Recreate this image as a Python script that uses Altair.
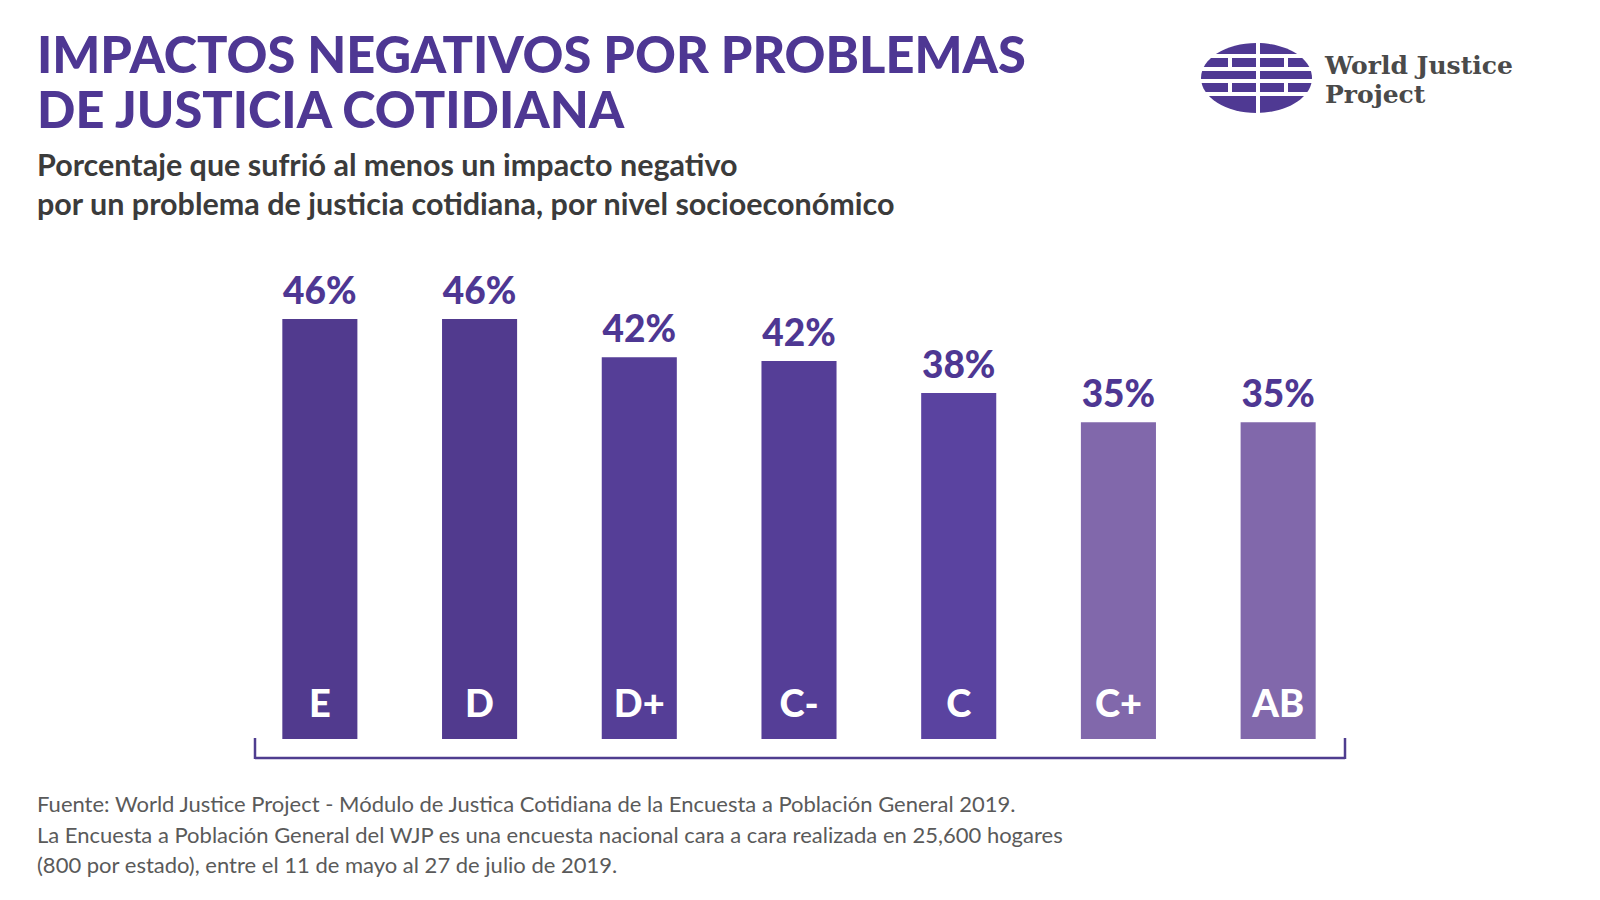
import altair as alt
import pandas as pd

# ---- data ----
categories = ["E", "D", "D+", "C-", "C", "C+", "AB"]
values = [46.0, 46.0, 41.8, 41.4, 37.9, 34.7, 34.7]
value_labels = ["46%", "46%", "42%", "42%", "38%", "35%", "35%"]

title_lines = ["IMPACTOS NEGATIVOS POR PROBLEMAS", "DE JUSTICIA COTIDIANA"]
subtitle_lines = [
    "Porcentaje que sufrió al menos un impacto negativo",
    "por un problema de justicia cotidiana, por nivel socioeconómico",
]
footer_lines = [
    "Fuente: World Justice Project - Módulo de Justica Cotidiana de la Encuesta a Población General 2019.",
    "La Encuesta a Población General del WJP es una encuesta nacional cara a cara realizada en 25,600 hogares",
    "(800 por estado), entre el 11 de mayo al 27 de julio de 2019.",
]
logo_lines = ["World Justice", "Project"]

bar_colors = ["#513a8e", "#513a8e", "#553e97", "#553e97", "#5a43a0", "#8168ab", "#8168ab"]
PURPLE = "#4e3793"

df = pd.DataFrame({"cat": categories, "v": values, "lbl": value_labels})

W, H = 1118, 456.5
PAD = {"left": 240, "top": 282.5, "right": 242, "bottom": 161}

xenc = alt.X("cat:N", sort=categories, axis=None,
             scale=alt.Scale(paddingInner=0.53, paddingOuter=0.265))
yscale = alt.Scale(domain=[0, 50], nice=False, zero=True)

base = alt.Chart(df)

bars = base.mark_bar().encode(
    x=xenc,
    y=alt.Y("v:Q", scale=yscale, axis=None),
    color=alt.Color("cat:N", scale=alt.Scale(domain=categories, range=bar_colors), legend=None),
)

pct = base.mark_text(dy=-15, baseline="alphabetic", font="Lato", fontSize=37,
                     fontWeight=900, color=PURPLE).encode(
    x=xenc, y=alt.Y("v:Q", scale=yscale, axis=None), text="lbl:N")

cat_text = base.mark_text(dy=-22, baseline="alphabetic", font="Lato", fontSize=38,
                          fontWeight=900, color="white").encode(
    x=xenc, y=alt.datum(0, scale=yscale), text="cat:N")

one = alt.Data(values=[{"k": 1}])


def rule(x, y, x2=None, y2=None, color=PURPLE, width=2.5):
    enc = {"x": alt.value(x), "y": alt.value(y)}
    if x2 is not None:
        enc["x2"] = alt.value(x2)
    if y2 is not None:
        enc["y2"] = alt.value(y2)
    return alt.Chart(one).mark_rule(color=color, strokeWidth=width).encode(**enc)


def text(t, x, y, size, weight, color, font="Lato"):
    return alt.Chart(alt.Data(values=[{"t": t}])).mark_text(
        align="left", baseline="alphabetic", font=font, fontSize=size,
        fontWeight=weight, color=color).encode(x=alt.value(x), y=alt.value(y), text="t:N")


layers = [bars, pct, cat_text]

# bracket under the bars
layers += [
    rule(15, 475.5, x2=1105, color="#4f3d8f"),
    rule(15, 455.5, y2=476.5, color="#4f3d8f"),
    rule(1105, 455.5, y2=476.5, color="#4f3d8f"),
]

# titles
layers.append(text(title_lines[0], -203, -209.5, 50.5, 900, PURPLE))
layers.append(text(title_lines[1], -203, -154.5, 50.5, 900, PURPLE))
layers.append(text(subtitle_lines[0], -203, -107, 30.5, 700, "#3b3b3b"))
layers.append(text(subtitle_lines[1], -203, -68, 30.5, 700, "#3b3b3b"))
for i, line in enumerate(footer_lines):
    layers.append(text(line, -203, 529.5 + i * 30.5, 22, 400, "#5a5a5a"))

# logo: globe
globe_path = "M -1 0 A 1 0.63 0 1 0 1 0 A 1 0.63 0 1 0 -1 0 Z"
layers.append(alt.Chart(one).mark_point(shape=globe_path, size=111 * 111, filled=True,
                                        opacity=1, color="#4f3993", strokeWidth=0).encode(
    x=alt.value(1016.5), y=alt.value(-204.5)))
for gy in [-226.5, -213.5, -201.5, -188.5]:
    layers.append(rule(950, gy, x2=1085, color="white", width=4))
layers.append(rule(1018, -242, y2=-167, color="white", width=4))
for vx in [990, 1046]:
    layers.append(rule(vx, -226.5, y2=-213.5, color="white", width=4))
    layers.append(rule(vx, -201.5, y2=-188.5, color="white", width=4))
layers.append(text(logo_lines[0], 1085, -208.5, 25, 700, "#4a4a4a", font="DejaVu Serif"))
layers.append(text(logo_lines[1], 1085, -179.5, 25, 700, "#4a4a4a", font="DejaVu Serif"))

chart = alt.layer(*layers).properties(
    width=W, height=H,
    autosize=alt.AutoSizeParams(type="none"),
    padding=PAD,
    background="white",
).configure_view(stroke=None)

chart.save("out.html", embed_options={"renderer": "svg", "actions": False})
